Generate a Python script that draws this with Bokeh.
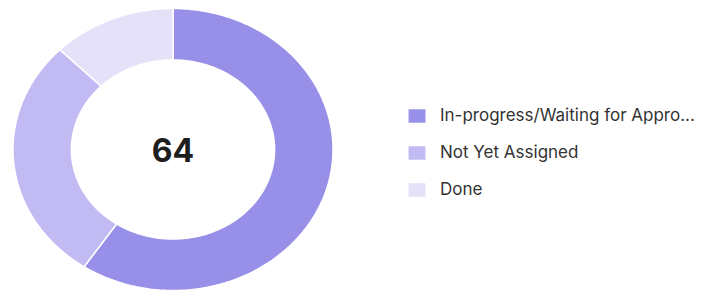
import numpy as np
from bokeh.plotting import figure
from bokeh.models import Range1d, Legend, LegendItem
from bokeh.core.properties import value
from bokeh.embed import file_html
from bokeh.resources import INLINE

categories = ["In-progress/Waiting for Appro...", "Not Yet Assigned", "Done"]
counts = [38, 18, 8]
colors = ["#978fe8", "#c2bbf3", "#e5e1f9"]
total_label = str(sum(counts))

W, H = 709, 291
cx_px, cy_px = 172.5, 149.0
rx_px, ry_px = 160.0, 141.0
inner_ratio = 0.635

p = figure(width=W, height=H, output_backend="svg", toolbar_location=None,
           x_range=Range1d(-cx_px / rx_px, (W - cx_px) / rx_px),
           y_range=Range1d(-(H - cy_px) / ry_px, cy_px / ry_px),
           min_border=0)
p.axis.visible = False
p.grid.visible = False
p.outline_line_color = None
p.background_fill_color = "white"
p.border_fill_color = "white"

total = float(sum(counts))
cum = np.concatenate([[0.0], np.cumsum(counts)])
items = []
for i, (cat, c) in enumerate(zip(categories, counts)):
    a0 = np.pi / 2 - 2 * np.pi * cum[i] / total
    a1 = np.pi / 2 - 2 * np.pi * cum[i + 1] / total
    t = np.linspace(a0, a1, 200)
    xs = np.concatenate([np.cos(t), inner_ratio * np.cos(t[::-1])])
    ys = np.concatenate([np.sin(t), inner_ratio * np.sin(t[::-1])])
    r = p.patch(xs, ys, fill_color=colors[i], line_color="white", line_width=1.5)
    items.append(LegendItem(label=cat, renderers=[r]))

p.text(x=[0], y=[0], text=[total_label], text_align="center", text_baseline="middle",
       text_font=value("Inter"), text_font_size="32px", text_font_style="bold",
       text_color="#1e1e1e")

legend = Legend(items=items, location=(405, 92), orientation="vertical",
                glyph_width=23, glyph_height=19, label_standoff=12,
                label_height=20, spacing=17, padding=0, margin=0,
                border_line_color=None, background_fill_alpha=0,
                label_text_font="Inter", label_text_font_size="17px",
                label_text_color="#333333")
p.add_layout(legend, "center")

open("out.html", "w").write(file_html(p, INLINE))
